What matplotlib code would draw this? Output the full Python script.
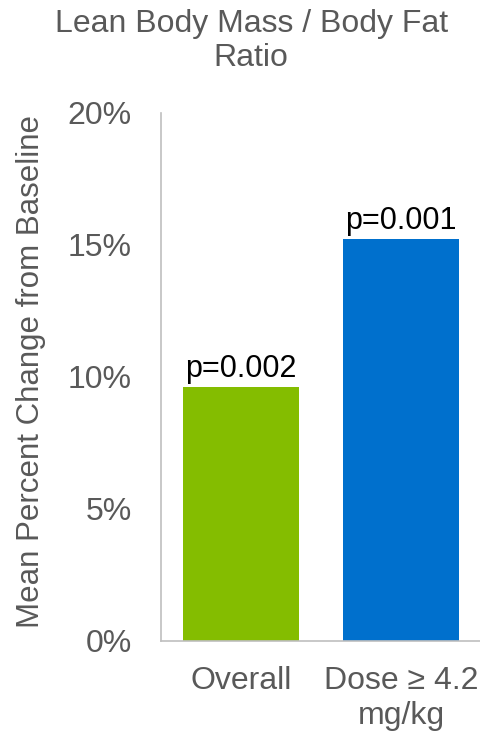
import matplotlib
matplotlib.use("Agg")
import matplotlib.pyplot as plt
from matplotlib.ticker import FuncFormatter

categories = ["Overall", "Dose \u2265 4.2\nmg/kg"]
values = [9.62, 15.23]
pvalues = ["p=0.002", "p=0.001"]
colors = ["#84BD00", "#0070CD"]
yticks = [0, 5, 10, 15, 20]

plt.rcParams['font.family'] = ['Liberation Sans', 'DejaVu Sans']

fig = plt.figure(figsize=(4.81, 7.33), dpi=100)
ax = fig.add_axes([161/481, 1 - 641/733, 1 - 161/481, (641 - 113)/733])

x = list(range(len(categories)))
bars = ax.bar(x, values, width=0.73, color=colors, zorder=2)
for b, p in zip(bars, pvalues):
    ax.text(b.get_x() + b.get_width()/2, b.get_height() + 0.1, p,
            ha='center', va='bottom', fontsize=22, color='black')

ax.set_xlim(-0.5, 1.5)
ax.set_ylim(0, 20)
ax.set_yticks(yticks)
ax.yaxis.set_major_formatter(FuncFormatter(lambda v, _: f"{v:.0f}%"))
ax.set_xticks(x)
ax.set_xticklabels(categories, fontsize=23, color='#595959', linespacing=1.22)
ax.tick_params(axis='y', labelsize=23, labelcolor='#595959', length=0, pad=21)
ax.tick_params(axis='x', length=0, pad=18)

for s in ['top', 'right']:
    ax.spines[s].set_visible(False)
for s in ['left', 'bottom']:
    ax.spines[s].set_color('#BFBFBF')
    ax.spines[s].set_linewidth(1.2)

ax.set_ylabel("Mean Percent Change from Baseline", fontsize=22.5, color='#595959')
ax.yaxis.set_label_coords(-0.36, 0.51)

fig.text(0.522, 1 - 41/733, "Lean Body Mass / Body Fat\nRatio", ha='center', va='center',
         fontsize=23, color='#595959', linespacing=1.15)

fig.savefig("out.png", dpi=100)
